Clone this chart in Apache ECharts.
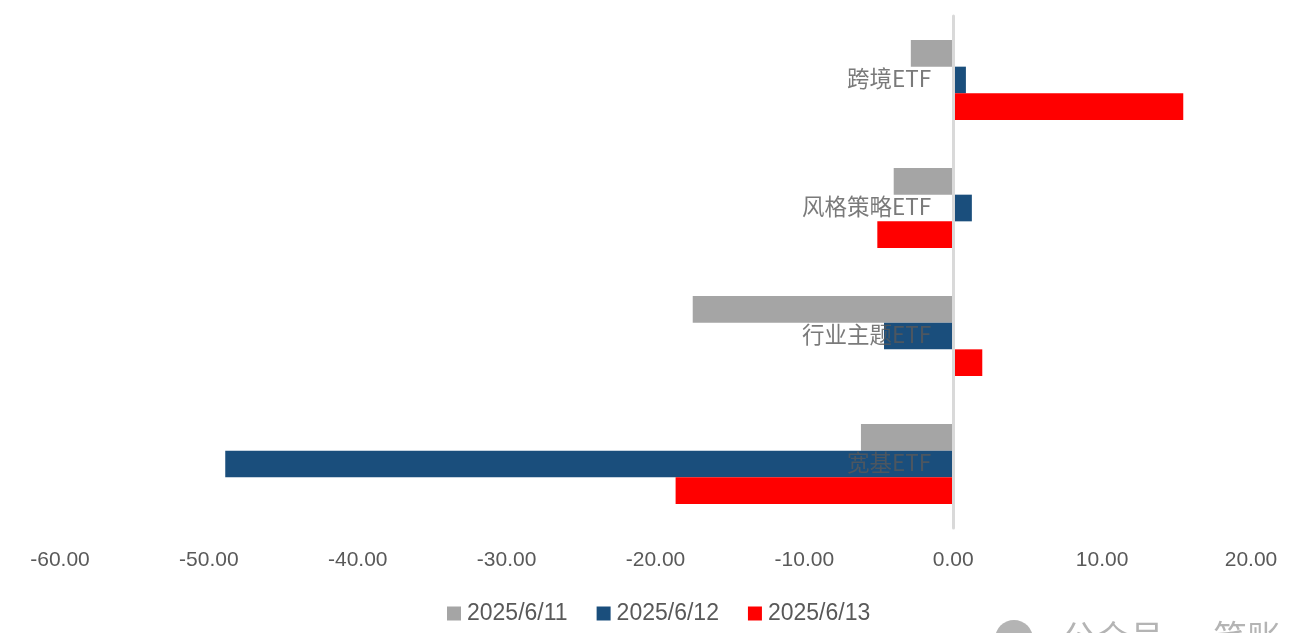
<!DOCTYPE html>
<html><head><meta charset="utf-8">
<style>html,body{margin:0;padding:0;background:#fff}#c{width:1311px;height:633px}</style>
<script src="https://cdn.jsdelivr.net/npm/echarts@6/dist/echarts.min.js"></script>
</head><body><div id="c"></div>
<script>
const categories = ['跨境ETF','风格策略ETF','行业主题ETF','宽基ETF'];
const seriesNames = ['2025/6/11','2025/6/12','2025/6/13'];
const s0611 = [-2.85,-4.0,-17.5,-6.2];
const s0612 = [0.85,1.25,-4.65,-48.9];
const s0613 = [15.45,-5.1,1.95,-18.65];
const colors = ['#A5A5A5','#1A4E7C','#FF0000'];
const watermark = '公众号 · 笔账';
const chart = echarts.init(document.getElementById('c'),null,{renderer:'canvas'});
const latin = '"Liberation Sans","Noto Sans CJK SC",sans-serif';
chart.setOption({
  animation:false,
  backgroundColor:'#fff',
  color:colors,
  grid:{left:60,right:60,top:16,bottom:105,outerBoundsMode:'none'},
  legend:{
    top:597,left:442,itemWidth:14,itemHeight:14,itemGap:29,icon:'rect',
    textStyle:{color:'#595959',fontSize:23,fontFamily:latin,padding:[0,0,0,1]},
    data:seriesNames
  },
  xAxis:{type:'value',position:'bottom',min:-60,max:20,interval:10,
    splitLine:{show:false},axisLine:{show:false},axisTick:{show:false},
    axisLabel:{color:'#595959',fontSize:21,fontFamily:latin,margin:22,formatter:v=>v.toFixed(2)}},
  yAxis:{type:'category',inverse:true,data:categories,z:5,
    axisLine:{show:true,onZero:true,lineStyle:{color:'#D9D9D9',width:3}},
    axisTick:{show:false},axisLabel:{show:false}},
  series:[
    ...[s0611,s0612,s0613].map((d,i)=>({
      name:seriesNames[i],type:'bar',data:d,barGap:0,barCategoryGap:'37.5%'
    })),
    {type:'scatter',name:'labels',z:6,symbolSize:2,itemStyle:{color:'rgba(0,0,0,0)'},silent:true,
      data:categories.map((c,i)=>[0,i]),
      label:{show:true,position:'left',distance:21,offset:[0,-2],color:'#595959',fontSize:22.5,
        fontFamily:'"Noto Sans CJK SC",sans-serif',formatter:p=>categories[p.dataIndex]}}
  ],
  graphic:[
    {type:'circle',shape:{cx:1014,cy:639,r:19},style:{fill:'#B4B4B4'},silent:true},
    {type:'text',x:1062,y:620,style:{text:watermark,fill:'#B4B4B4',font:'34px "Noto Sans CJK SC"'},silent:true}
  ]
});
</script></body></html>
